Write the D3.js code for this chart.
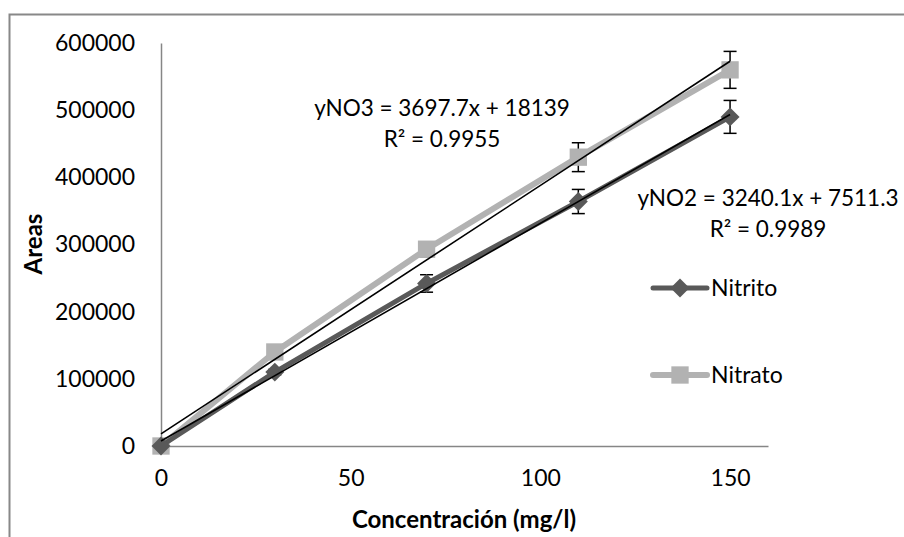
<!DOCTYPE html>
<html>
<head>
<meta charset="utf-8">
<script src="https://cdn.jsdelivr.net/npm/d3@7"></script>
<style>
  body { margin: 0; background: #fff; }
  svg text { font-family: Lato, "Open Sans", sans-serif; fill: #000; }
</style>
</head>
<body>
<div id="chart"></div>
<script>
// concentraciones (mg/l)
var conc = [0, 30, 70, 110, 150];
var nitrito = [0, 110000, 242000, 364000, 490000];
var nitrato = [0, 140000, 293000, 430000, 560000];
var errNitrito = [0, 4000, 13000, 18000, 24500];
var errNitrato = [0, 4000, 11000, 21500, 27500];
var xTicks = [0, 50, 100, 150];
var yTicks = [0, 100000, 200000, 300000, 400000, 500000, 600000];
var trendNO2 = { m: 3240.1, b: 7511.3, eq: "yNO2 = 3240.1x + 7511.3", r2: "R² = 0.9989" };
var trendNO3 = { m: 3697.7, b: 18139, eq: "yNO3 = 3697.7x + 18139", r2: "R² = 0.9955" };

var width = 904, height = 537;
var fontSize = 23;
var axisColor = "#868686";
var nitritoColor = "#595959";
var nitratoColor = "#b2b2b2";

var svg = d3.select("#chart").append("svg")
    .attr("width", width)
    .attr("height", height);

// borde del grafico
svg.append("path")
    .attr("d", "M9.5," + height + "V14.5H" + width)
    .attr("fill", "none")
    .attr("stroke", "#888")
    .attr("stroke-width", 2);

var x = d3.scaleLinear().domain([0, 160]).range([161, 768]);
var y = d3.scaleLinear().domain([0, 600000]).range([446, 43]);

// ejes
var yAxis = svg.append("g")
    .attr("transform", "translate(161,0)")
    .call(d3.axisLeft(y).tickValues(yTicks).tickSize(0).tickPadding(26).tickFormat(d3.format("d")));
var xAxis = svg.append("g")
    .attr("transform", "translate(0,446)")
    .call(d3.axisBottom(x).tickValues(xTicks).tickSize(0).tickPadding(24).tickFormat(d3.format("d")));
[xAxis, yAxis].forEach(function(a){
    a.select(".domain").attr("stroke", axisColor).attr("stroke-width", 1.5);
    a.selectAll("text").style("font-size", fontSize + "px").attr("fill", "#000")
        .style("font-family", "Lato, 'Open Sans', sans-serif");
});

svg.append("text")
    .attr("x", 464).attr("y", 528)
    .attr("text-anchor", "middle")
    .style("font-size", "24px").style("font-weight", "bold")
    .text("Concentración (mg/l)");
svg.append("text")
    .attr("transform", "translate(42,244) rotate(-90)")
    .attr("text-anchor", "middle")
    .style("font-size", "24px").style("font-weight", "bold")
    .text("Areas");

// diamante como cuadrado girado 45 grados
function marker(shape){
    return shape === "diamond"
        ? d3.symbol().type(d3.symbolSquare).size(180)()
        : d3.symbol().type(d3.symbolSquare).size(300)();
}
function markerRot(shape){ return shape === "diamond" ? " rotate(45)" : ""; }

var series = [
    { name: "Nitrito", vals: nitrito, err: errNitrito, color: nitritoColor, width: 5, shape: "diamond" },
    { name: "Nitrato", vals: nitrato, err: errNitrato, color: nitratoColor, width: 6, shape: "square" }
];

var line = d3.line()
    .x(function(d){ return x(d[0]); })
    .y(function(d){ return y(d[1]); });

// barras de error
series.forEach(function(s){
    var g = svg.append("g").attr("stroke", "#000").attr("stroke-width", 1.5);
    conc.forEach(function(c, i){
        if (!s.err[i]) return;
        var cx = x(c), y1 = y(s.vals[i] + s.err[i]), y2 = y(s.vals[i] - s.err[i]);
        g.append("line").attr("x1", cx).attr("x2", cx).attr("y1", y1).attr("y2", y2);
        g.append("line").attr("x1", cx - 6.5).attr("x2", cx + 6.5).attr("y1", y1).attr("y2", y1);
        g.append("line").attr("x1", cx - 6.5).attr("x2", cx + 6.5).attr("y1", y2).attr("y2", y2);
    });
});

// series
series.slice().reverse().forEach(function(s){
    var pts = conc.map(function(c, i){ return [c, s.vals[i]]; });
    svg.append("path")
        .datum(pts)
        .attr("d", line)
        .attr("fill", "none")
        .attr("stroke", s.color)
        .attr("stroke-width", s.width)
        .attr("stroke-linejoin", "round");
    svg.append("g").selectAll("path")
        .data(pts)
        .enter()
        .append("path")
        .attr("transform", function(d){ return "translate(" + x(d[0]) + "," + y(d[1]) + ")" + markerRot(s.shape); })
        .attr("d", marker(s.shape))
        .attr("fill", s.color);
});

// lineas de tendencia
[trendNO2, trendNO3].forEach(function(t){
    svg.append("line")
        .attr("x1", x(0)).attr("y1", y(t.b))
        .attr("x2", x(150)).attr("y2", y(t.m * 150 + t.b))
        .attr("stroke", "#000")
        .attr("stroke-width", 1.6);
});

function eqLabel(t, cx, cy){
    svg.append("text").attr("x", cx).attr("y", cy).attr("text-anchor", "middle")
        .style("font-size", "22.5px").text(t.eq);
    svg.append("text").attr("x", cx).attr("y", cy + 31).attr("text-anchor", "middle")
        .style("font-size", "22.5px").text(t.r2);
}
eqLabel(trendNO3, 442, 116);
eqLabel(trendNO2, 768, 206);

// leyenda
series.forEach(function(s, i){
    var ly = 288 + i * 87;
    svg.append("line")
        .attr("x1", 653).attr("x2", 707).attr("y1", ly).attr("y2", ly)
        .attr("stroke", s.color).attr("stroke-width", s.width).attr("stroke-linecap", "round");
    svg.append("path")
        .attr("transform", "translate(680," + ly + ")" + markerRot(s.shape))
        .attr("d", marker(s.shape))
        .attr("fill", s.color);
    svg.append("text")
        .attr("x", 711).attr("y", ly + 8)
        .style("font-size", "23px")
        .text(s.name);
});
</script>
</body>
</html>
